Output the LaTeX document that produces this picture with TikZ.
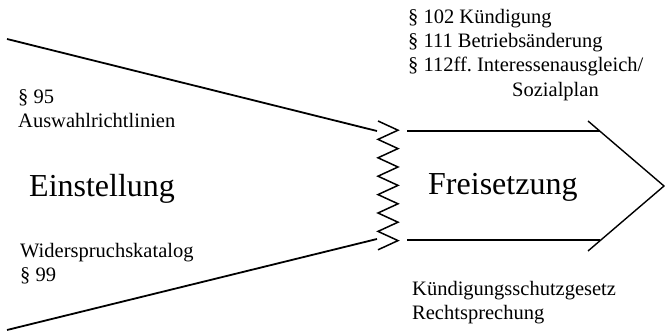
\documentclass[tikz,border=0pt]{standalone}
\usepackage{fontspec}
\setmainfont{Liberation Serif}
\frenchspacing
\begin{document}
\begin{tikzpicture}[x=1pt,y=-1pt,
  small/.style={font=\fontsize{20.5}{24}\selectfont, anchor=base west, inner sep=0pt},
  big/.style={font=\fontsize{32}{38}\selectfont, anchor=base west, inner sep=0pt},
  funnel/.style={line width=1.8pt},
  zig/.style={line width=1.5pt, line join=miter},
  arrowline/.style={line width=1.4pt}]
\useasboundingbox (0,0) rectangle (665,331);
% funnel lines
\coordinate (ftl) at (7,39);
\coordinate (ftr) at (377,131);
\coordinate (fbl) at (7,330);
\coordinate (fbr) at (377,239);
\draw[funnel] (ftl) -- (ftr);
\draw[funnel] (fbl) -- (fbr);
% zigzag
\coordinate (z0) at (378,121);
\draw[zig] (z0) \foreach \i in {1,...,7} { -- ++(20,9.2) -- ++(-20,9.2) };
% arrow
\coordinate (atl) at (407,131);
\coordinate (atr) at (600,131);
\coordinate (abl) at (407,240);
\coordinate (abr) at (600,240);
\coordinate (dtop) at (588,121);
\coordinate (tip) at (664,186);
\coordinate (dbot) at (588,251);
\draw[arrowline] (atl) -- (atr);
\draw[arrowline] (abl) -- (abr);
\draw[arrowline] (dtop) -- (tip) -- (dbot);
% texts
\node[small] (p95) at (18,104) {§ 95};
\node[small] (awr) at (18,128) {Auswahlrichtlinien};
\node[big] (ein) at (29,197) {Einstellung};
\node[small] (wid) at (20,258) {Widerspruchskatalog};
\node[small] (p99) at (20,282) {§ 99};
\node[small] (p102) at (408,24) {§ 102 Kündigung};
\node[small] (p111) at (408,48) {§ 111 Betriebsänderung};
\node[small] (p112) at (408,72) {§ 112ff. Interessenausgleich/};
\node[small] (soz) at (512,97) {Sozialplan};
\node[big] (frei) at (428,195) {Freisetzung};
\node[small] (ksg) at (412,296) {Kündigungsschutzgesetz};
\node[small] (rs) at (412,320) {Rechtsprechung};
\end{tikzpicture}
\end{document}
